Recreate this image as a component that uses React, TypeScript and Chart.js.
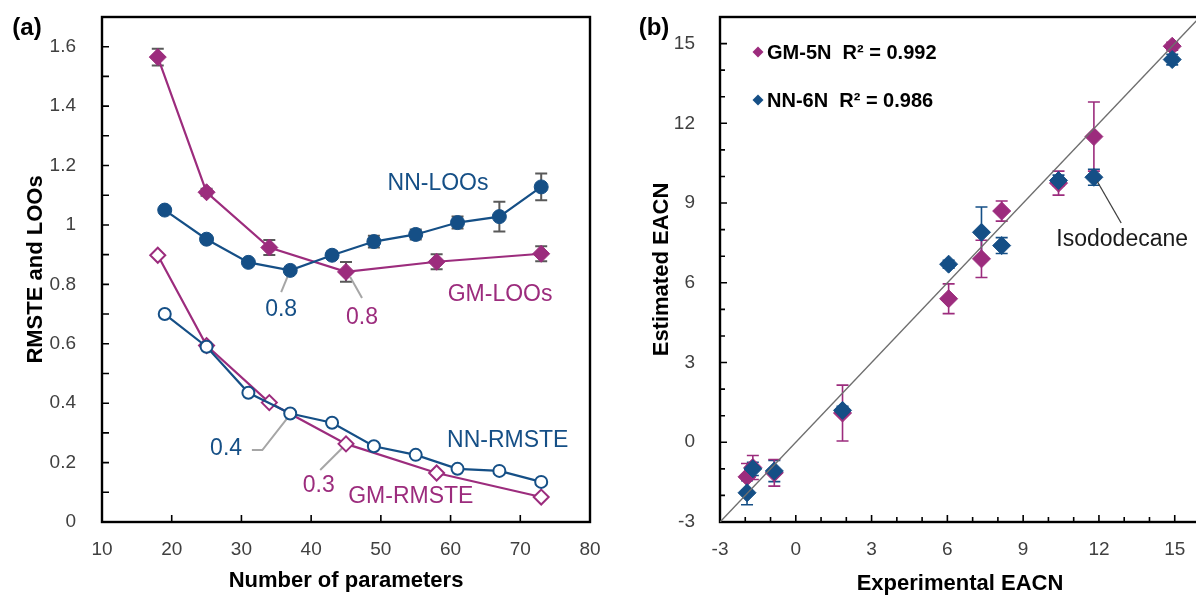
import React, { useEffect, useRef } from 'react';
import { Chart, registerables } from 'chart.js';

Chart.register(...registerables);

const FONT = "'Liberation Sans', Arial, sans-serif";
const MAGENTA = '#9C2C7D';
const BLUE = '#154F86';
const ERR_GRAY = '#595959';
const LEADER_GRAY = '#A6A6A6';

// ---------- Panel (a) data ----------
const paramsGM = [18, 25, 34, 45, 58, 73];
const gmLOOs = [1.565, 1.11, 0.924, 0.842, 0.876, 0.903];
const gmLOOsErr = [0.028, 0.012, 0.025, 0.033, 0.025, 0.025];
const gmRMSTE = [0.898, 0.594, 0.402, 0.263, 0.165, 0.084];

const paramsNN = [19, 25, 31, 37, 43, 49, 55, 61, 67, 73];
const nnLOOs = [1.05, 0.952, 0.874, 0.847, 0.898, 0.944, 0.968, 1.008, 1.028, 1.128];
const nnLOOsErr = [0.004, 0.004, 0.004, 0.004, 0.012, 0.02, 0.017, 0.02, 0.05, 0.045];
const nnRMSTE = [0.7, 0.59, 0.435, 0.365, 0.334, 0.255, 0.226, 0.179, 0.172, 0.135];

const aXTicks = [10, 20, 30, 40, 50, 60, 70, 80];
const aYTicks = [0, 0.2, 0.4, 0.6, 0.8, 1, 1.2, 1.4, 1.6];
const aYMinor = [0.1, 0.3, 0.5, 0.7, 0.9, 1.1, 1.3, 1.5];

const aLabels = [
  { text: 'NN-LOOs', x: 58.2, y: 1.138, color: BLUE },
  { text: 'GM-LOOs', x: 67.1, y: 0.764, color: MAGENTA },
  { text: 'NN-RMSTE', x: 68.2, y: 0.273, color: BLUE },
  { text: 'GM-RMSTE', x: 54.3, y: 0.084, color: MAGENTA },
  { text: '0.8', x: 35.7, y: 0.714, color: BLUE },
  { text: '0.8', x: 47.3, y: 0.687, color: MAGENTA },
  { text: '0.4', x: 27.8, y: 0.246, color: BLUE },
  { text: '0.3', x: 41.1, y: 0.121, color: MAGENTA },
];
const aLeaders = [
  [[37.0, 0.848], [35.7, 0.774]],
  [[45.6, 0.825], [47.3, 0.754]],
  [[36.7, 0.353], [33.0, 0.242], [31.5, 0.242]],
  [[44.9, 0.259], [41.3, 0.175]],
];

// ---------- Panel (b) data ----------
const eacnExp = [-1.93, -1.7, -0.85, 1.85, 6.05, 7.35, 8.15, 10.4, 11.8, 14.9];
const gmEst = [-1.3, -0.95, -1.15, 1.1, 5.4, 6.9, 8.7, 9.75, 11.5, 14.9];
const gmEstErr = [0.5, 0.45, 0.5, 1.05, 0.56, 0.7, 0.38, 0.45, 1.3, 0.15];
const nnEst = [-1.9, -1.0, -1.08, 1.2, 6.7, 7.9, 7.4, 9.85, 9.97, 14.4];
const nnEstErr = [0.45, 0.25, 0.4, 0.15, 0.15, 0.95, 0.3, 0.2, 0.3, 0.2];

const bTicks = [-3, 0, 3, 6, 9, 12, 15];
const bMinor = [-2, -1, 1, 2, 4, 5, 7, 8, 10, 11, 13, 14, 16];
const parity = [-3, 16];

const bLegend = [
  { text: 'GM-5N  R² = 0.992', color: MAGENTA },
  { text: 'NN-6N  R² = 0.986', color: BLUE },
];
const bLabel = { text: 'Isododecane', x: 12.92, y: 7.62 };
const bLeader = [[11.94, 9.8], [12.88, 8.25]];

const pts = (xs: number[], ys: number[]) => xs.map((x, i) => ({ x, y: ys[i] }));

function scaleCfg(min: number, max: number, ticks: number[], isX: boolean, size: number, pad: number, fmt: (v: number) => string) {
  return {
    type: 'linear',
    min,
    max,
    grid: { display: false },
    border: { display: false },
    afterBuildTicks: (s: any) => {
      s.ticks = ticks.map((v) => ({ value: v }));
    },
    afterFit: (s: any) => {
      if (isX) {
        s.height = size;
        s.paddingLeft = 0;
        s.paddingRight = 0;
      } else {
        s.width = size;
        s.paddingTop = 0;
        s.paddingBottom = 0;
      }
    },
    ticks: {
      color: '#404040',
      font: { family: FONT, size: 19 },
      padding: pad,
      autoSkip: false,
      maxRotation: 0,
      minRotation: 0,
      callback: (v: any) => fmt(Number(v)),
    },
  };
}

const errorBarPlugin = {
  id: 'errorBars',
  beforeDatasetsDraw(chart: any) {
    const { ctx } = chart;
    const ys = chart.scales.y;
    ctx.save();
    chart.data.datasets.forEach((ds: any, i: number) => {
      if (!ds.errors) return;
      const meta = chart.getDatasetMeta(i);
      ctx.strokeStyle = ds.errorColor;
      ctx.lineWidth = ds.errorWidth;
      ctx.beginPath();
      meta.data.forEach((el: any, j: number) => {
        const v = ds.data[j].y;
        const e = ds.errors[j];
        const x = el.x;
        const y1 = ys.getPixelForValue(v + e);
        const y2 = ys.getPixelForValue(v - e);
        const c = ds.capHalf;
        ctx.moveTo(x, y1);
        ctx.lineTo(x, y2);
        ctx.moveTo(x - c, y1);
        ctx.lineTo(x + c, y1);
        ctx.moveTo(x - c, y2);
        ctx.lineTo(x + c, y2);
      });
      ctx.stroke();
    });
    ctx.restore();
  },
};

function framePlugin(cfg: any) {
  return {
    id: 'frameTicks',
    beforeDatasetsDraw(chart: any) {
      const { ctx, chartArea: a } = chart;
      const xs = chart.scales.x;
      const ys = chart.scales.y;
      ctx.save();
      ctx.strokeStyle = '#000';
      ctx.lineWidth = 1.6;
      ctx.beginPath();
      for (const v of cfg.xMajor) {
        const p = xs.getPixelForValue(v);
        ctx.moveTo(p, a.bottom);
        ctx.lineTo(p, a.bottom - cfg.majorLen);
      }
      for (const v of cfg.xMinor) {
        const p = xs.getPixelForValue(v);
        ctx.moveTo(p, a.bottom);
        ctx.lineTo(p, a.bottom - cfg.minorLen);
      }
      for (const v of cfg.yMajor) {
        const p = ys.getPixelForValue(v);
        ctx.moveTo(a.left, p);
        ctx.lineTo(a.left + cfg.majorLen, p);
      }
      for (const v of cfg.yMinor) {
        const p = ys.getPixelForValue(v);
        ctx.moveTo(a.left, p);
        ctx.lineTo(a.left + cfg.minorLen, p);
      }
      ctx.stroke();
      ctx.lineWidth = 2.4;
      ctx.strokeRect(a.left, a.top, a.right - a.left, a.bottom - a.top);
      ctx.restore();
    },
    afterDraw(chart: any) {
      const { ctx, chartArea: a } = chart;
      ctx.save();
      ctx.fillStyle = '#000';
      ctx.textAlign = 'center';
      ctx.textBaseline = 'middle';
      ctx.font = `bold 22px ${FONT}`;
      ctx.fillText(cfg.xTitle, (a.left + a.right) / 2 + cfg.xTitleDx, cfg.xTitleY);
      ctx.save();
      ctx.translate(cfg.yTitleX, (a.top + a.bottom) / 2);
      ctx.rotate(-Math.PI / 2);
      ctx.fillText(cfg.yTitle, 0, 0);
      ctx.restore();
      ctx.font = `bold 24px ${FONT}`;
      ctx.fillText(cfg.panel, cfg.panelX, cfg.panelY);
      ctx.restore();
    },
  };
}

const annotationA = {
  id: 'annotA',
  beforeDatasetsDraw(chart: any) {
    const { ctx } = chart;
    const xs = chart.scales.x;
    const ys = chart.scales.y;
    ctx.save();
    ctx.strokeStyle = LEADER_GRAY;
    ctx.lineWidth = 2;
    for (const line of aLeaders) {
      ctx.beginPath();
      line.forEach(([x, y], i) => {
        const px = xs.getPixelForValue(x);
        const py = ys.getPixelForValue(y);
        if (i === 0) ctx.moveTo(px, py);
        else ctx.lineTo(px, py);
      });
      ctx.stroke();
    }
    ctx.restore();
  },
  afterDatasetsDraw(chart: any) {
    const { ctx } = chart;
    const xs = chart.scales.x;
    const ys = chart.scales.y;
    ctx.save();
    ctx.textAlign = 'center';
    ctx.textBaseline = 'middle';
    ctx.font = `23px ${FONT}`;
    for (const l of aLabels) {
      ctx.fillStyle = l.color;
      ctx.fillText(l.text, xs.getPixelForValue(l.x), ys.getPixelForValue(l.y));
    }
    ctx.restore();
  },
};

const annotationB = {
  id: 'annotB',
  afterDatasetsDraw(chart: any) {
    const { ctx, chartArea: a } = chart;
    const xs = chart.scales.x;
    const ys = chart.scales.y;
    ctx.save();
    ctx.beginPath();
    ctx.rect(a.left, a.top, a.right - a.left, a.bottom - a.top);
    ctx.clip();
    // parity line y = x
    ctx.strokeStyle = '#6E6E6E';
    ctx.lineWidth = 1.4;
    ctx.beginPath();
    ctx.moveTo(xs.getPixelForValue(parity[0]), ys.getPixelForValue(parity[0]));
    ctx.lineTo(xs.getPixelForValue(parity[1]), ys.getPixelForValue(parity[1]));
    ctx.stroke();
    // leader
    ctx.strokeStyle = '#404040';
    ctx.lineWidth = 1.3;
    ctx.beginPath();
    ctx.moveTo(xs.getPixelForValue(bLeader[0][0]), ys.getPixelForValue(bLeader[0][1]));
    ctx.lineTo(xs.getPixelForValue(bLeader[1][0]), ys.getPixelForValue(bLeader[1][1]));
    ctx.stroke();
    ctx.restore();

    ctx.save();
    ctx.textAlign = 'center';
    ctx.textBaseline = 'middle';
    ctx.fillStyle = '#1a1a1a';
    ctx.font = `23px ${FONT}`;
    ctx.fillText(bLabel.text, xs.getPixelForValue(bLabel.x), ys.getPixelForValue(bLabel.y));
    // legend
    ctx.textAlign = 'left';
    ctx.font = `bold 20px ${FONT}`;
    bLegend.forEach((item, i) => {
      const cx = a.left + 38;
      const cy = a.top + 35 + i * 48;
      const r = 5.5;
      ctx.fillStyle = item.color;
      ctx.beginPath();
      ctx.moveTo(cx - r, cy);
      ctx.lineTo(cx, cy - r);
      ctx.lineTo(cx + r, cy);
      ctx.lineTo(cx, cy + r);
      ctx.closePath();
      ctx.fill();
      ctx.fillStyle = '#000';
      ctx.fillText(item.text, cx + 9, cy + 1);
    });
    ctx.restore();
  },
};

export default function App() {
  const refA = useRef<HTMLCanvasElement>(null);
  const refB = useRef<HTMLCanvasElement>(null);

  useEffect(() => {
    const fmtA = (v: number) => String(Number(v.toFixed(1)));
    const fmtB = (v: number) => String(v);

    const chartA = new Chart(refA.current as HTMLCanvasElement, {
      type: 'scatter',
      data: {
        datasets: [
          {
            label: 'NN-LOOs',
            data: pts(paramsNN, nnLOOs),
            errors: nnLOOsErr,
            errorColor: ERR_GRAY,
            errorWidth: 2,
            capHalf: 6,
            showLine: true,
            borderColor: BLUE,
            borderWidth: 2.2,
            pointStyle: 'circle',
            pointRadius: 7,
            pointBackgroundColor: BLUE,
            pointBorderColor: BLUE,
            pointBorderWidth: 1,
          },
          {
            label: 'GM-LOOs',
            data: pts(paramsGM, gmLOOs),
            errors: gmLOOsErr,
            errorColor: ERR_GRAY,
            errorWidth: 2,
            capHalf: 6,
            showLine: true,
            borderColor: MAGENTA,
            borderWidth: 2.2,
            pointStyle: 'rectRot',
            pointRadius: 8.5,
            pointBackgroundColor: MAGENTA,
            pointBorderColor: MAGENTA,
            pointBorderWidth: 1,
          },
          {
            label: 'NN-RMSTE',
            data: pts(paramsNN, nnRMSTE),
            showLine: true,
            borderColor: BLUE,
            borderWidth: 2.2,
            pointStyle: 'circle',
            pointRadius: 6,
            pointBackgroundColor: '#ffffff',
            pointBorderColor: BLUE,
            pointBorderWidth: 2,
          },
          {
            label: 'GM-RMSTE',
            data: pts(paramsGM, gmRMSTE),
            showLine: true,
            borderColor: MAGENTA,
            borderWidth: 2.2,
            pointStyle: 'rectRot',
            pointRadius: 7.5,
            pointBackgroundColor: '#ffffff',
            pointBorderColor: MAGENTA,
            pointBorderWidth: 2,
          },
        ] as any,
      },
      options: {
        responsive: false,
        animation: false,
        events: [],
        layout: { padding: { left: 0, top: 17, right: 30, bottom: 0 } },
        plugins: { legend: { display: false }, tooltip: { enabled: false } },
        scales: {
          x: scaleCfg(10, 80, aXTicks, true, 75, 8, fmtB) as any,
          y: scaleCfg(0, 1.7, aYTicks, false, 102, 18, fmtA) as any,
        },
      },
      plugins: [
        framePlugin({
          xMajor: aXTicks,
          xMinor: [],
          yMajor: aYTicks,
          yMinor: aYMinor,
          majorLen: 7,
          minorLen: 7,
          xTitle: 'Number of parameters',
          xTitleDx: 0,
          xTitleY: 581,
          yTitle: 'RMSTE and LOOs',
          yTitleX: 36,
          panel: '(a)',
          panelX: 27,
          panelY: 28,
        }),
        errorBarPlugin,
        annotationA,
      ],
    });

    const chartB = new Chart(refB.current as HTMLCanvasElement, {
      type: 'scatter',
      data: {
        datasets: [
          {
            label: 'NN-6N',
            data: pts(eacnExp, nnEst),
            errors: nnEstErr,
            errorColor: BLUE,
            errorWidth: 1.6,
            capHalf: 6,
            showLine: false,
            pointStyle: 'rectRot',
            pointRadius: 9,
            pointBackgroundColor: BLUE,
            pointBorderColor: BLUE,
            pointBorderWidth: 1,
          },
          {
            label: 'GM-5N',
            data: pts(eacnExp, gmEst),
            errors: gmEstErr,
            errorColor: MAGENTA,
            errorWidth: 1.6,
            capHalf: 6,
            showLine: false,
            pointStyle: 'rectRot',
            pointRadius: 9,
            pointBackgroundColor: MAGENTA,
            pointBorderColor: MAGENTA,
            pointBorderWidth: 1,
          },
        ] as any,
      },
      options: {
        responsive: false,
        animation: false,
        events: [],
        layout: { padding: { left: 0, top: 17, right: 7, bottom: 0 } },
        plugins: { legend: { display: false }, tooltip: { enabled: false } },
        scales: {
          x: scaleCfg(-3, 16, bTicks, true, 75, 8, fmtB) as any,
          y: scaleCfg(-3, 16, bTicks, false, 120, 17, fmtB) as any,
        },
      },
      plugins: [
        framePlugin({
          xMajor: bTicks,
          xMinor: bMinor,
          yMajor: bTicks,
          yMinor: bMinor,
          majorLen: 7,
          minorLen: 5,
          xTitle: 'Experimental EACN',
          xTitleDx: 0,
          xTitleY: 584,
          yTitle: 'Estimated EACN',
          yTitleX: 62,
          panel: '(b)',
          panelX: 54,
          panelY: 28,
        }),
        errorBarPlugin,
        annotationB,
      ],
    });

    return () => {
      chartA.destroy();
      chartB.destroy();
    };
  }, []);

  return (
    <div
      style={{
        position: 'absolute',
        left: 0,
        top: 0,
        width: 1196,
        height: 597,
        overflow: 'hidden',
        background: '#ffffff',
      }}
    >
      <canvas ref={refA} width={620} height={597} style={{ position: 'absolute', left: 0, top: 0 }} />
      <canvas ref={refB} width={610} height={597} style={{ position: 'absolute', left: 600, top: 0 }} />
    </div>
  );
}
